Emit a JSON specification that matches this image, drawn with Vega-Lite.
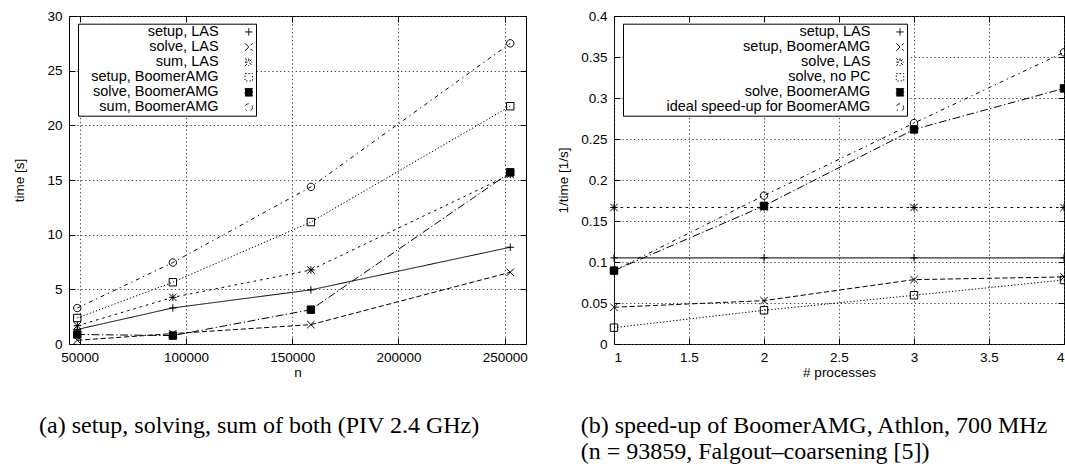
{
  "$schema": "https://vega.github.io/schema/vega-lite/v6.json",
  "background": "white",
  "padding": {"left": 12, "top": 8, "right": -3, "bottom": 0},
  "spacing": 28,
  "config": {
    "view": {"stroke": "black", "strokeWidth": 1},
    "axis": {
      "labelFont": "Liberation Sans", "labelFontSize": 13.5, "labelColor": "black",
      "titleFont": "Liberation Sans", "titleFontSize": 13.5, "titleFontWeight": "normal", "titleColor": "black",
      "tickColor": "black", "tickSize": -6, "tickWidth": 1, "domain": false,
      "gridColor": "#444", "gridDash": [1.3, 2.6], "gridOpacity": 1, "gridWidth": 1,
      "labelPadding": 13
    },
    "legend": {
      "labelFont": "Liberation Sans", "labelFontSize": 14.5, "labelColor": "black", "labelLimit": 0,
      "symbolSize": 55, "symbolStrokeWidth": 1, "symbolStrokeColor": "black",
      "rowPadding": 0.1, "padding": 1, "fillColor": "white", "strokeColor": "black",
      "labelAlign": "right", "orient": "none"
    }
  },
  "datasets": {
    "left": [
      {"n": 48900, "time": 1.33, "series": "setup, LAS"},
      {"n": 93859, "time": 3.30, "series": "setup, LAS"},
      {"n": 158800, "time": 4.95, "series": "setup, LAS"},
      {"n": 252600, "time": 8.85, "series": "setup, LAS"},
      {"n": 48900, "time": 0.34, "series": "solve, LAS"},
      {"n": 93859, "time": 0.95, "series": "solve, LAS"},
      {"n": 158800, "time": 1.77, "series": "solve, LAS"},
      {"n": 252600, "time": 6.56, "series": "solve, LAS"},
      {"n": 48900, "time": 1.67, "series": "sum, LAS"},
      {"n": 93859, "time": 4.27, "series": "sum, LAS"},
      {"n": 158800, "time": 6.77, "series": "sum, LAS"},
      {"n": 252600, "time": 15.5, "series": "sum, LAS"},
      {"n": 48900, "time": 2.38, "series": "setup, BoomerAMG"},
      {"n": 93859, "time": 5.65, "series": "setup, BoomerAMG"},
      {"n": 158800, "time": 11.15, "series": "setup, BoomerAMG"},
      {"n": 252600, "time": 21.75, "series": "setup, BoomerAMG"},
      {"n": 48900, "time": 0.87, "series": "solve, BoomerAMG"},
      {"n": 93859, "time": 0.77, "series": "solve, BoomerAMG"},
      {"n": 158800, "time": 3.14, "series": "solve, BoomerAMG"},
      {"n": 252600, "time": 15.7, "series": "solve, BoomerAMG"},
      {"n": 48900, "time": 3.29, "series": "sum, BoomerAMG"},
      {"n": 93859, "time": 7.45, "series": "sum, BoomerAMG"},
      {"n": 158800, "time": 14.37, "series": "sum, BoomerAMG"},
      {"n": 252600, "time": 27.5, "series": "sum, BoomerAMG"}
    ],
    "right": [
      {"p": 1, "v": 0.105, "series": "setup, LAS"},
      {"p": 2, "v": 0.105, "series": "setup, LAS"},
      {"p": 3, "v": 0.105, "series": "setup, LAS"},
      {"p": 4, "v": 0.105, "series": "setup, LAS"},
      {"p": 1, "v": 0.0448, "series": "setup, BoomerAMG"},
      {"p": 2, "v": 0.0529, "series": "setup, BoomerAMG"},
      {"p": 3, "v": 0.0785, "series": "setup, BoomerAMG"},
      {"p": 4, "v": 0.0818, "series": "setup, BoomerAMG"},
      {"p": 1, "v": 0.1665, "series": "solve, LAS"},
      {"p": 2, "v": 0.1665, "series": "solve, LAS"},
      {"p": 3, "v": 0.1665, "series": "solve, LAS"},
      {"p": 4, "v": 0.1665, "series": "solve, LAS"},
      {"p": 1, "v": 0.0199, "series": "solve, no PC"},
      {"p": 2, "v": 0.0411, "series": "solve, no PC"},
      {"p": 3, "v": 0.0594, "series": "solve, no PC"},
      {"p": 4, "v": 0.0781, "series": "solve, no PC"},
      {"p": 1, "v": 0.0895, "series": "solve, BoomerAMG"},
      {"p": 2, "v": 0.1685, "series": "solve, BoomerAMG"},
      {"p": 3, "v": 0.2617, "series": "solve, BoomerAMG"},
      {"p": 4, "v": 0.3117, "series": "solve, BoomerAMG"},
      {"p": 1, "v": 0.0895, "series": "ideal speed-up for BoomerAMG"},
      {"p": 2, "v": 0.181, "series": "ideal speed-up for BoomerAMG"},
      {"p": 3, "v": 0.2694, "series": "ideal speed-up for BoomerAMG"},
      {"p": 4, "v": 0.3557, "series": "ideal speed-up for BoomerAMG"}
    ]
  },
  "hconcat": [
    {
      "width": 457,
      "height": 328,
      "data": {"name": "left"},
      "title": {
        "text": "(a) setup, solving, sum of both (PIV 2.4 GHz)",
        "orient": "bottom", "anchor": "middle", "frame": "bounds",
        "font": "Liberation Serif", "fontSize": 24, "fontWeight": "normal", "color": "black",
        "offset": 35, "dx": -11
      },
      "layer": [
        {
          "mark": {"type": "line", "color": "black", "strokeWidth": 1},
          "encoding": {
            "x": {"field": "n", "type": "quantitative",
              "scale": {"domain": [45000, 260000], "nice": false, "zero": false},
              "axis": {"title": "n", "values": [50000, 100000, 150000, 200000, 250000], "format": "d", "grid": true, "titlePadding": 2, "labelPadding": 12}},
            "y": {"field": "time", "type": "quantitative",
              "scale": {"domain": [0, 30], "nice": false},
              "axis": {"title": "time [s]", "values": [0, 5, 10, 15, 20, 25, 30], "format": "d", "grid": true, "titlePadding": 20}},
            "strokeDash": {"field": "series", "type": "nominal",
              "scale": {
                "domain": ["setup, LAS", "solve, LAS", "sum, LAS", "setup, BoomerAMG", "solve, BoomerAMG", "sum, BoomerAMG"],
                "range": [[1, 0], [5.2, 2.6], [2.6, 3.9], [1.3, 2], [7.8, 2.6, 1.3, 2.6], [3.9, 3.9, 1.3, 3.9]]
              },
              "legend": {
                "title": null, "legendX": 9, "legendY": 7.7,
                "labelOffset": -37.4, "symbolOffset": 162.5,
                "encoding": {
                  "symbols": {
                    "shape": {"value": {"expr": "datum.value === 'setup, LAS' ? 'M-5.7,0H5.7M0,-1V1M7.9,0' : datum.value === 'solve, LAS' ? 'M-5.7,0H5.7M-1,-1L1,1M-1,1L1,-1M7.9,0' : datum.value === 'sum, LAS' ? 'M-5.7,0H5.7M0,-1V1M-1,-1L1,1M-1,1L1,-1M7.9,0' : datum.value === 'sum, BoomerAMG' ? 'M-5.7,0H5.7M1,0A1,1 0 1,1 -1,0A1,1 0 1,1 1,0M7.9,0' : 'M-5.7,0H5.7M-1,-1H1V1H-1ZM7.9,0'"}},
                    "fill": {"value": {"expr": "datum.value === 'solve, BoomerAMG' ? 'black' : 'transparent'"}},
                    "stroke": {"value": "black"},
                    "strokeWidth": {"value": 1},
                    "strokeOpacity": {"value": 1},
                    "opacity": {"value": 1}
                  }
                }
              }
            }
          }
        },
        {
          "mark": {"type": "point", "filled": false, "stroke": "black", "strokeWidth": 1, "size": 55, "opacity": 1},
          "encoding": {
            "x": {"field": "n", "type": "quantitative",
              "scale": {"domain": [45000, 260000], "nice": false, "zero": false},
              "axis": {"orient": "top", "labels": false, "title": null, "grid": false, "values": [50000, 100000, 150000, 200000, 250000]}},
            "y": {"field": "time", "type": "quantitative",
              "scale": {"domain": [0, 30], "nice": false},
              "axis": {"orient": "right", "labels": false, "title": null, "grid": false, "values": [0, 5, 10, 15, 20, 25, 30]}},
            "shape": {"field": "series", "type": "nominal",
              "scale": {
                "domain": ["setup, LAS", "solve, LAS", "sum, LAS", "setup, BoomerAMG", "solve, BoomerAMG", "sum, BoomerAMG"],
                "range": ["M-1,0H1M0,-1V1", "M-1,-1L1,1M-1,1L1,-1", "M-1,0H1M0,-1V1M-1,-1L1,1M-1,1L1,-1", "M-1,-1H1V1H-1Z", "M-1,-1H1V1H-1Z", "M1,0A1,1 0 1,1 -1,0A1,1 0 1,1 1,0Z"]
              },
              "legend": null},
            "fill": {"field": "series", "type": "nominal",
              "scale": {
                "domain": ["setup, LAS", "solve, LAS", "sum, LAS", "setup, BoomerAMG", "solve, BoomerAMG", "sum, BoomerAMG"],
                "range": ["transparent", "transparent", "transparent", "transparent", "black", "transparent"]
              },
              "legend": null}
          }
        }
      ],
      "resolve": {"axis": {"x": "independent", "y": "independent"}}
    },
    {
      "width": 450,
      "height": 328,
      "data": {"name": "right"},
      "title": {
        "text": ["(b) speed-up of BoomerAMG, Athlon, 700 MHz", "(n = 93859, Falgout–coarsening [5])"],
        "orient": "bottom", "anchor": "start", "frame": "bounds", "align": "left",
        "font": "Liberation Serif", "fontSize": 24, "fontWeight": "normal", "color": "black",
        "offset": 35, "dx": 24, "lineHeight": 26
      },
      "layer": [
        {
          "mark": {"type": "line", "color": "black", "strokeWidth": 1},
          "encoding": {
            "x": {"field": "p", "type": "quantitative",
              "scale": {"domain": [1, 4], "nice": false, "zero": false},
              "axis": {"title": "# processes", "values": [1, 1.5, 2, 2.5, 3, 3.5, 4], "format": "~g", "grid": true, "titlePadding": 2, "labelPadding": 12}},
            "y": {"field": "v", "type": "quantitative",
              "scale": {"domain": [0, 0.4], "nice": false},
              "axis": {"title": "1/time [1/s]", "values": [0, 0.05, 0.1, 0.15, 0.2, 0.25, 0.3, 0.35, 0.4], "format": "~g", "grid": true, "titlePadding": 10}},
            "strokeDash": {"field": "series", "type": "nominal",
              "scale": {
                "domain": ["setup, LAS", "setup, BoomerAMG", "solve, LAS", "solve, no PC", "solve, BoomerAMG", "ideal speed-up for BoomerAMG"],
                "range": [[1, 0], [5.2, 2.6], [2.6, 3.9], [1.3, 2], [7.8, 2.6, 1.3, 2.6], [3.9, 3.9, 1.3, 3.9]]
              },
              "legend": {
                "title": null, "legendX": 9, "legendY": 7.7,
                "labelOffset": -36.85, "symbolOffset": 268.75,
                "encoding": {
                  "symbols": {
                    "shape": {"value": {"expr": "datum.value === 'setup, LAS' ? 'M-5.7,0H5.7M0,-1V1M7.9,0' : datum.value === 'setup, BoomerAMG' ? 'M-5.7,0H5.7M-1,-1L1,1M-1,1L1,-1M7.9,0' : datum.value === 'solve, LAS' ? 'M-5.7,0H5.7M0,-1V1M-1,-1L1,1M-1,1L1,-1M7.9,0' : datum.value === 'ideal speed-up for BoomerAMG' ? 'M-5.7,0H5.7M1,0A1,1 0 1,1 -1,0A1,1 0 1,1 1,0M7.9,0' : 'M-5.7,0H5.7M-1,-1H1V1H-1ZM7.9,0'"}},
                    "fill": {"value": {"expr": "datum.value === 'solve, BoomerAMG' ? 'black' : 'transparent'"}},
                    "stroke": {"value": "black"},
                    "strokeWidth": {"value": 1},
                    "strokeOpacity": {"value": 1},
                    "opacity": {"value": 1}
                  }
                }
              }
            }
          }
        },
        {
          "mark": {"type": "point", "filled": false, "stroke": "black", "strokeWidth": 1, "size": 55, "opacity": 1},
          "encoding": {
            "x": {"field": "p", "type": "quantitative",
              "scale": {"domain": [1, 4], "nice": false, "zero": false},
              "axis": {"orient": "top", "labels": false, "title": null, "grid": false, "values": [1, 1.5, 2, 2.5, 3, 3.5, 4]}},
            "y": {"field": "v", "type": "quantitative",
              "scale": {"domain": [0, 0.4], "nice": false},
              "axis": {"orient": "right", "labels": false, "title": null, "grid": false, "values": [0, 0.05, 0.1, 0.15, 0.2, 0.25, 0.3, 0.35, 0.4]}},
            "shape": {"field": "series", "type": "nominal",
              "scale": {
                "domain": ["setup, LAS", "setup, BoomerAMG", "solve, LAS", "solve, no PC", "solve, BoomerAMG", "ideal speed-up for BoomerAMG"],
                "range": ["M-1,0H1M0,-1V1", "M-1,-1L1,1M-1,1L1,-1", "M-1,0H1M0,-1V1M-1,-1L1,1M-1,1L1,-1", "M-1,-1H1V1H-1Z", "M-1,-1H1V1H-1Z", "M1,0A1,1 0 1,1 -1,0A1,1 0 1,1 1,0Z"]
              },
              "legend": null},
            "fill": {"field": "series", "type": "nominal",
              "scale": {
                "domain": ["setup, LAS", "setup, BoomerAMG", "solve, LAS", "solve, no PC", "solve, BoomerAMG", "ideal speed-up for BoomerAMG"],
                "range": ["transparent", "transparent", "transparent", "transparent", "black", "transparent"]
              },
              "legend": null}
          }
        }
      ],
      "resolve": {"axis": {"x": "independent", "y": "independent"}}
    }
  ],
  "resolve": {
    "scale": {"x": "independent", "y": "independent", "strokeDash": "independent", "shape": "independent", "fill": "independent"}
  }
}
